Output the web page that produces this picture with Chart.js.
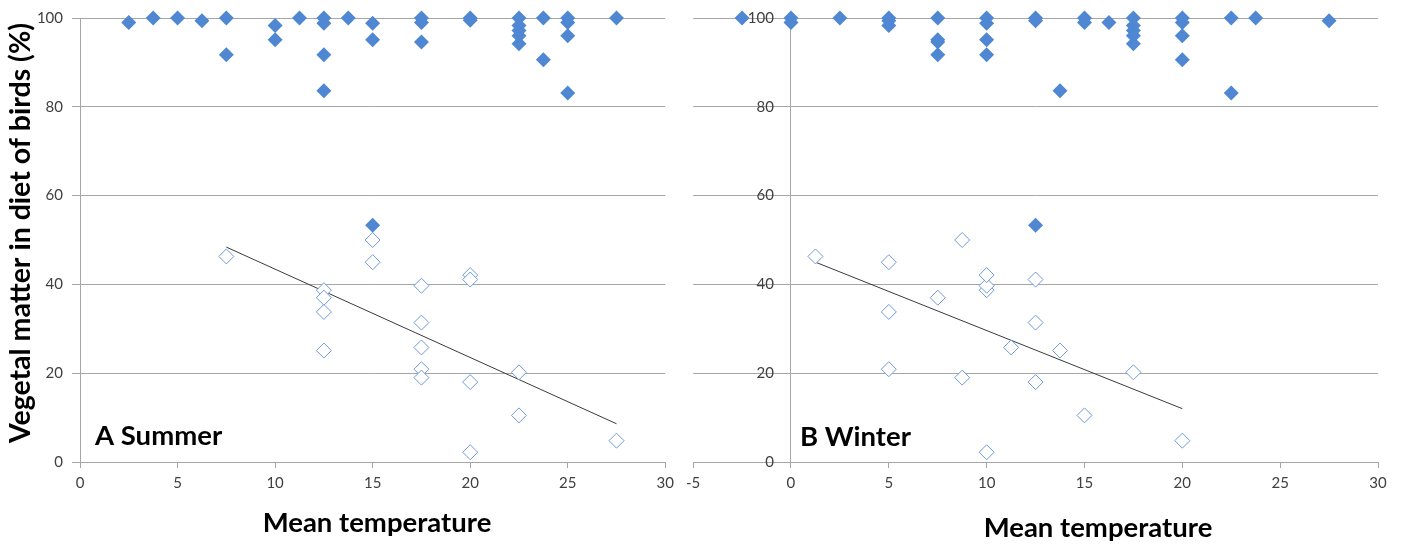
<!DOCTYPE html>
<html>
<head>
<meta charset="utf-8">
<title>Vegetal matter in diet vs mean temperature</title>
<script src="https://cdn.jsdelivr.net/npm/chart.js@4/dist/chart.umd.min.js"></script>
<style>
  body { margin: 0; background: #fff; }
  #wrap { position: relative; width: 1403px; height: 546px; overflow: hidden; }
  .panel { position: absolute; top: 0; }
  #summerChart { left: 0; }
  #winterChart { left: 680px; }
</style>
</head>
<body>
<div id="wrap">
  <canvas id="summerChart" class="panel" width="680" height="546"></canvas>
  <canvas id="winterChart" class="panel" width="723" height="546"></canvas>
</div>
<script>
// Species that are (almost) fully herbivorous: filled markers
const summerFilledTemp = [2.5, 3.75, 5, 6.25, 7.5, 7.5, 10, 10, 11.25, 12.5, 12.5, 12.5, 12.5, 13.75, 15, 15, 15,
  17.5, 17.5, 17.5, 20, 20, 22.5, 22.5, 22.5, 22.5, 22.5, 23.75, 23.75, 25, 25, 25, 25, 27.5];
const summerFilledVeg = [99, 100, 100, 99.4, 100, 91.7, 98.3, 95.1, 100, 100, 98.8, 91.7, 83.6, 100, 98.8, 95.1, 53.3,
  100, 99, 94.6, 100, 99.5, 100, 98.3, 97.2, 96, 94.2, 100, 90.6, 100, 99, 96, 83.1, 100];

// Omnivorous species: open markers, used for the trend line
const summerOpenTemp = [7.5, 15, 15, 12.5, 12.5, 12.5, 12.5, 17.5, 17.5, 17.5, 17.5, 17.5, 20, 20, 20, 20, 22.5, 22.5, 27.5];
const summerOpenVeg = [46.3, 50, 45, 38.7, 37, 33.8, 25.1, 39.7, 31.4, 25.8, 20.9, 19.0, 42.1, 41.1, 18.0, 2.2, 20.2, 10.5, 4.8];

const winterFilledTemp = [-2.5, 0, 0, 2.5, 5, 5, 5, 7.5, 7.5, 7.5, 7.5, 10, 10, 10, 10, 12.5, 12.5, 12.5, 13.75, 15, 15,
  16.25, 17.5, 17.5, 17.5, 17.5, 17.5, 20, 20, 20, 20, 22.5, 22.5, 23.75, 27.5];
const winterFilledVeg = [100, 100, 99, 100, 100, 99.4, 98.3, 100, 95.1, 94.6, 91.7, 100, 98.8, 95.1, 91.7, 100, 99.4, 53.3,
  83.6, 100, 99, 99, 100, 98.3, 97.2, 96, 94.2, 100, 99, 96, 90.6, 100, 83.1, 100, 99.4];

const winterOpenTemp = [1.25, 8.75, 5, 10, 7.5, 5, 13.75, 10, 12.5, 11.25, 5, 8.75, 10, 12.5, 12.5, 10, 17.5, 15, 20];
const winterOpenVeg = [46.3, 50, 45, 38.7, 37, 33.8, 25.1, 39.7, 31.4, 25.8, 20.9, 19.0, 42.1, 41.1, 18.0, 2.2, 20.2, 10.5, 4.8];

const yTicks = [0, 20, 40, 60, 80, 100];

const FILL_BLUE = '#4f87d3';
const OPEN_BLUE = '#6e9ad8';
const GRID = '#a6a6a6';
const TICK_FONT = { family: 'Lato', size: 15 };

function toPoints(xs, ys) {
  return xs.map((x, i) => ({ x: x, y: ys[i] }));
}

// least squares fit, drawn between the smallest and largest temperature
function trendLine(xs, ys) {
  const n = xs.length;
  const mx = xs.reduce((a, b) => a + b, 0) / n;
  const my = ys.reduce((a, b) => a + b, 0) / n;
  let sxy = 0, sxx = 0;
  for (let i = 0; i < n; i++) {
    sxy += (xs[i] - mx) * (ys[i] - my);
    sxx += (xs[i] - mx) * (xs[i] - mx);
  }
  const slope = sxy / sxx;
  const x0 = Math.min(...xs), x1 = Math.max(...xs);
  return [{ x: x0, y: my + slope * (x0 - mx) }, { x: x1, y: my + slope * (x1 - mx) }];
}

// axis titles and panel letters
const panelText = {
  id: 'panelText',
  afterDraw(chart, args, opts) {
    const ctx = chart.ctx;
    (opts.items || []).forEach(item => {
      ctx.save();
      ctx.font = item.font;
      ctx.fillStyle = '#000';
      ctx.textAlign = item.align || 'left';
      ctx.textBaseline = 'middle';
      ctx.translate(item.x, item.y);
      if (item.rotate) ctx.rotate(item.rotate);
      ctx.fillText(item.text, 0, 0);
      ctx.restore();
    });
  }
};

// y labels for an axis that crosses at x = 0 (Chart.js puts them flush against the line)
const crossingLabels = {
  id: 'crossingLabels',
  afterDatasetsDraw(chart, args, opts) {
    if (!opts.gap) return;
    const ctx = chart.ctx;
    const xs = chart.scales.x, ys = chart.scales.y;
    const x = xs.getPixelForValue(0) - opts.gap;
    ctx.save();
    ctx.font = TICK_FONT.size + 'px ' + TICK_FONT.family;
    ctx.fillStyle = '#404040';
    ctx.textAlign = 'right';
    ctx.textBaseline = 'middle';
    ys.ticks.forEach(t => ctx.fillText(String(t.value), x, ys.getPixelForValue(t.value)));
    ctx.restore();
  }
};

function makePanel(canvasId, cfg) {
  const ctx = document.getElementById(canvasId).getContext('2d');
  return new Chart(ctx, {
    type: 'scatter',
    data: {
      datasets: [
        {
          data: toPoints(cfg.filledTemp, cfg.filledVeg),
          pointStyle: 'rectRot',
          pointRadius: 7.5,
          backgroundColor: FILL_BLUE,
          borderColor: FILL_BLUE,
          borderWidth: 0,
          clip: false
        },
        {
          data: toPoints(cfg.openTemp, cfg.openVeg),
          pointStyle: 'rectRot',
          pointRadius: 7.5,
          backgroundColor: '#ffffff',
          borderColor: OPEN_BLUE,
          borderWidth: 1,
          clip: false
        },
        {
          data: trendLine(cfg.openTemp, cfg.openVeg),
          showLine: true,
          pointRadius: 0,
          borderColor: '#3a3a3a',
          borderWidth: 1,
          clip: false
        }
      ]
    },
    options: {
      responsive: false,
      animation: false,
      layout: { padding: cfg.padding },
      plugins: {
        legend: { display: false },
        tooltip: { enabled: false },
        panelText: { items: cfg.texts },
        crossingLabels: { gap: cfg.crossingGap || 0 }
      },
      scales: {
        x: {
          type: 'linear',
          min: cfg.xMin,
          max: cfg.xMax,
          afterFit: (scale) => { scale.height = 84; },
          ticks: { stepSize: 5, font: TICK_FONT, color: '#404040', padding: 6, maxRotation: 0 },
          grid: { drawOnChartArea: false, drawTicks: true, tickLength: 6, color: GRID },
          border: { color: GRID }
        },
        y: {
          type: 'linear',
          position: cfg.yPosition,
          min: 0,
          max: 100,
          afterBuildTicks: (scale) => { scale.ticks = yTicks.map(v => ({ value: v })); },
          afterFit: cfg.yWidth ? (scale) => { scale.width = cfg.yWidth; } : undefined,
          ticks: { display: !cfg.crossingGap, font: TICK_FONT, color: '#404040', padding: 9 },
          grid: { color: GRID, tickLength: 8 },
          border: { color: GRID }
        }
      }
    },
    plugins: [panelText, crossingLabels]
  });
}

makePanel('summerChart', {
  filledTemp: summerFilledTemp, filledVeg: summerFilledVeg,
  openTemp: summerOpenTemp, openVeg: summerOpenVeg,
  xMin: 0, xMax: 30,
  yPosition: 'left',
  yWidth: 80,
  padding: { top: 18, right: 13, left: 0, bottom: 0 },
  texts: [
    { text: 'Vegetal matter in diet of birds (%)', x: 21, y: 233, align: 'center', rotate: -Math.PI / 2, font: 'bold 28.5px Lato' },
    { text: 'Mean temperature', x: 377, y: 523, align: 'center', font: 'bold 27.5px Lato' },
    { text: 'A Summer', x: 95, y: 436, font: 'bold 27.5px Lato' }
  ]
});

makePanel('winterChart', {
  filledTemp: winterFilledTemp, filledVeg: winterFilledVeg,
  openTemp: winterOpenTemp, openVeg: winterOpenVeg,
  xMin: -5, xMax: 30,
  yPosition: { x: 0 },
  crossingGap: 17,
  padding: { top: 18, right: 25, left: 11, bottom: 0 },
  texts: [
    { text: 'Mean temperature', x: 418, y: 528, align: 'center', font: 'bold 27.5px Lato' },
    { text: 'B Winter', x: 120, y: 437, font: 'bold 27.5px Lato' }
  ]
});
</script>
</body>
</html>
